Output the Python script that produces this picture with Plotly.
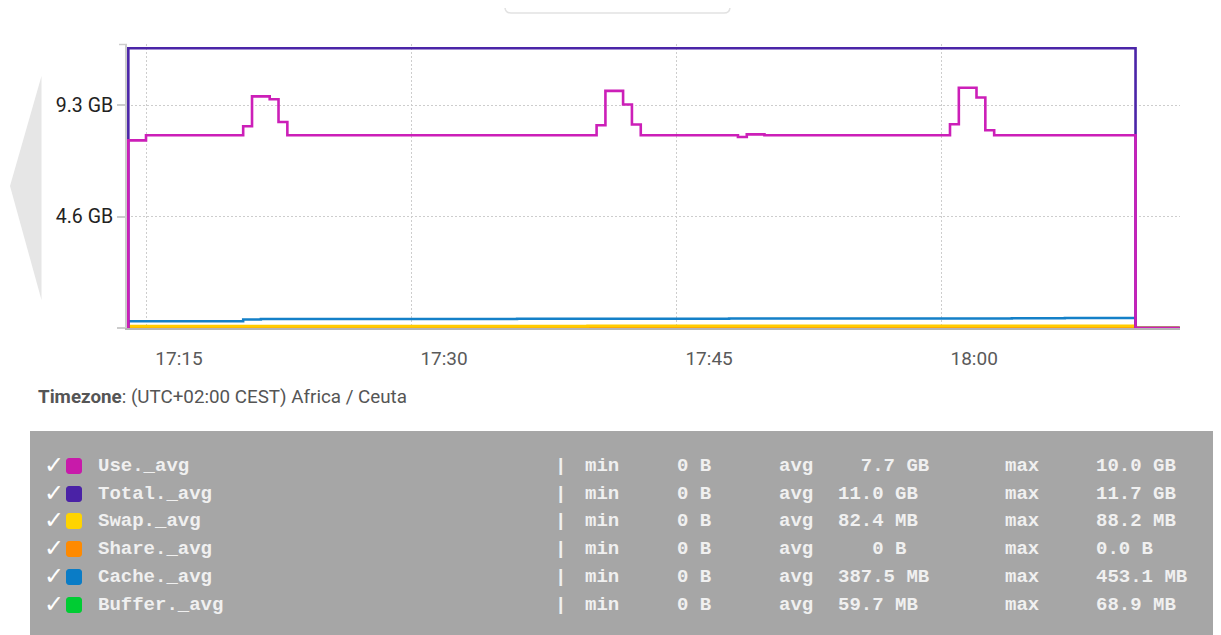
import plotly.graph_objects as go

DAY = "2023-06-01 "

# ---------------- data (GiB) ----------------
use_t = ["17:14:00", "17:14:00", "17:15:00", "17:20:30", "17:21:00", "17:22:00", "17:22:30", "17:23:00",
         "17:40:30", "17:41:00", "17:42:00", "17:42:30", "17:43:00", "17:48:30", "17:49:00", "17:50:00",
         "18:00:30", "18:01:00", "18:02:00", "18:02:30", "18:03:00", "18:11:00", "18:13:30"]
use_v = [0, 7.85, 8.06, 8.44, 9.69, 9.57, 8.62, 8.06,
         8.48, 9.92, 9.35, 8.51, 8.06, 7.99, 8.10, 8.06,
         8.52, 10.05, 9.64, 8.27, 8.06, 0, 0]

total_t = ["17:14:00", "17:14:00", "18:11:00", "18:13:30"]
total_v = [0, 11.7, 0, 0]

swap_t = ["17:14:00", "17:14:00", "17:40:00", "18:11:00", "18:13:30"]
swap_v = [0, 0.078, 0.082, 0, 0]

share_t = ["17:14:00", "18:13:30"]
share_v = [0, 0]

cache_t = ["17:14:00", "17:14:00", "17:20:30", "17:21:30", "17:36:00", "17:48:00", "18:04:00", "18:07:00",
           "18:11:00", "18:13:30"]
cache_v = [0, 0.28, 0.36, 0.38, 0.39, 0.40, 0.41, 0.42, 0, 0]

buffer_t = ["17:14:00", "17:14:00", "18:11:00", "18:13:30"]
buffer_v = [0, 0.058, 0, 0]

y_tick_vals = [0, 4.657, 9.313]
y_tick_text = ["", "4.6 GB", "9.3 GB"]
x_tick_vals = ["17:15:00", "17:30:00", "17:45:00", "18:00:00"]

legend_names = ["Use._avg", "Total._avg", "Swap._avg", "Share._avg", "Cache._avg", "Buffer._avg"]
legend_colors = ["#c81aaa", "#4a22a6", "#ffd400", "#ff8a00", "#0a7cc6", "#00cc33"]
legend_min = ["0 B", "0 B", "0 B", "0 B", "0 B", "0 B"]
legend_avg = ["  7.7 GB", "11.0 GB", "82.4 MB", "   0 B", "387.5 MB", "59.7 MB"]
legend_max = ["10.0 GB", "11.7 GB", "88.2 MB", "0.0 B", "453.1 MB", "68.9 MB"]

# ---------------- layout geometry (page pixel coordinates) ----------------
OFF = 8  # page body margin
W, H = 1221, 635 - OFF
L, R, T, B = 127 - OFF, 41 + OFF, 44 - OFF, 307
PW, PH = W - L - R, H - T - B


def px(x):
    return (x - OFF - L) / PW


def py(y):
    return (H - B - (y - OFF)) / PH


def ts(lst):
    return [DAY + s for s in lst]


fig = go.Figure()

series = [
    ("Buffer._avg", buffer_t, buffer_v, "#00cc33", 2.5),
    ("Share._avg", share_t, share_v, "#ff8a00", 2.5),
    ("Cache._avg", cache_t, cache_v, "#1480c8", 2.5),
    ("Swap._avg", swap_t, swap_v, "#ffcc00", 3),
    ("Total._avg", total_t, total_v, "#4b25a8", 2.6),
    ("Use._avg", use_t, use_v, "#cc1fb8", 2.6),
]
for name, t, v, c, w in series:
    fig.add_trace(go.Scatter(x=ts(t), y=v, mode="lines", name=name,
                             line=dict(color=c, width=w, shape="hv"),
                             showlegend=False, hoverinfo="skip"))

fig.update_layout(
    width=W, height=H,
    margin=dict(l=L, r=R, t=T, b=B),
    paper_bgcolor="white", plot_bgcolor="white",
    font=dict(family="Roboto", color="#333"),
    xaxis=dict(
        range=[DAY + "17:13:55.5", DAY + "18:13:31"],
        tickvals=ts(x_tick_vals), tickformat="%H:%M",
        showgrid=True, gridcolor="#cdcdcd", griddash="1.5px,2.5px", gridwidth=1,
        showline=True, linecolor="#b5b5b5", linewidth=1.5,
        ticks="", tickfont=dict(family="Roboto", size=19, color="#5a5a5a"),
        ticklabelshift=33, ticklabelstandoff=12,
        zeroline=False,
    ),
    yaxis=dict(
        range=[0, 11.88],
        tickvals=y_tick_vals, ticktext=y_tick_text,
        showgrid=True, gridcolor="#cdcdcd", griddash="1.5px,2.5px", gridwidth=1,
        showline=True, linecolor="#cccccc", linewidth=2,
        ticks="outside", ticklen=8, tickcolor="#cccccc", tickwidth=1.5,
        tickfont=dict(family="Roboto", size=19.5, color="#222"),
        zeroline=False,
    ),
)

shapes = []
# top tick mark on the y axis
shapes.append(dict(type="line", xref="paper", yref="paper", x0=px(119), x1=px(127), y0=py(44.5), y1=py(44.5),
                   line=dict(color="#cccccc", width=1.5)))
# left grey navigation arrow
shapes.append(dict(type="path", xref="paper", yref="paper",
                   path=f"M {px(41.5)} {py(76)} L {px(10)} {py(186)} L {px(41.5)} {py(300)} Z",
                   fillcolor="#e6e6e6", line=dict(width=0), layer="below"))
# partially visible box at the top
x0b, x1b, yb, r = 505, 730, 13, 6
shapes.append(dict(type="path", xref="paper", yref="paper",
                   path=(f"M {px(x0b)} {py(-5)} L {px(x0b)} {py(yb - r)} Q {px(x0b)} {py(yb)} {px(x0b + r)} {py(yb)} "
                         f"L {px(x1b - r)} {py(yb)} Q {px(x1b)} {py(yb)} {px(x1b)} {py(yb - r)} L {px(x1b)} {py(-5)}"),
                   fillcolor="white", line=dict(color="#e2e2e2", width=1.5)))
# legend panel
shapes.append(dict(type="rect", xref="paper", yref="paper", x0=px(30), x1=px(1250), y0=py(431), y1=py(660),
                   fillcolor="#a6a6a6", line=dict(width=0), layer="below"))

annotations = []
annotations.append(dict(xref="paper", yref="paper", x=px(36), y=py(397), xanchor="left", yanchor="middle",
                        showarrow=False, text="<b>Timezone</b>: (UTC+02:00 CEST) Africa / Ceuta",
                        font=dict(family="Roboto", size=18.8, color="#555")))

row_y = [466, 494, 521, 549, 577, 605]
mono = dict(family="Liberation Mono", size=19, color="#f0f0f0")


def txt(x, y, s, font):
    annotations.append(dict(xref="paper", yref="paper", x=px(x), y=py(y), xanchor="left", yanchor="middle",
                            showarrow=False, text=s.replace(" ", "&nbsp;"), font=font))


for i, name in enumerate(legend_names):
    y = row_y[i]
    txt(41.5, y - 1.5, "<b>✓</b>", dict(family="DejaVu Sans", size=24, color="#ffffff"))
    s0, s1, rr = 66.5, 81.5, 2.5
    shapes.append(dict(type="path", xref="paper", yref="paper",
                       path=(f"M {px(s0 + rr)} {py(y - 7.5)} L {px(s1 - rr)} {py(y - 7.5)} Q {px(s1)} {py(y - 7.5)} {px(s1)} {py(y - 7.5 + rr)} "
                             f"L {px(s1)} {py(y + 7.5 - rr)} Q {px(s1)} {py(y + 7.5)} {px(s1 - rr)} {py(y + 7.5)} "
                             f"L {px(s0 + rr)} {py(y + 7.5)} Q {px(s0)} {py(y + 7.5)} {px(s0)} {py(y + 7.5 - rr)} "
                             f"L {px(s0)} {py(y - 7.5 + rr)} Q {px(s0)} {py(y - 7.5)} {px(s0 + rr)} {py(y - 7.5)} Z"),
                       fillcolor=legend_colors[i], line=dict(color=legend_colors[i], width=1)))
    txt(96, y, f"<b>{name}</b>", mono)
    txt(553, y, "<b>|</b>", mono)
    txt(583, y, "<b>min</b>", mono)
    txt(675, y, f"<b>{legend_min[i]}</b>", mono)
    txt(777, y, "<b>avg</b>", mono)
    txt(836, y, f"<b>{legend_avg[i]}</b>", mono)
    txt(1003, y, "<b>max</b>", mono)
    txt(1094, y, f"<b>{legend_max[i]}</b>", mono)

fig.update_layout(shapes=shapes, annotations=annotations)
fig.write_html("out.html")
